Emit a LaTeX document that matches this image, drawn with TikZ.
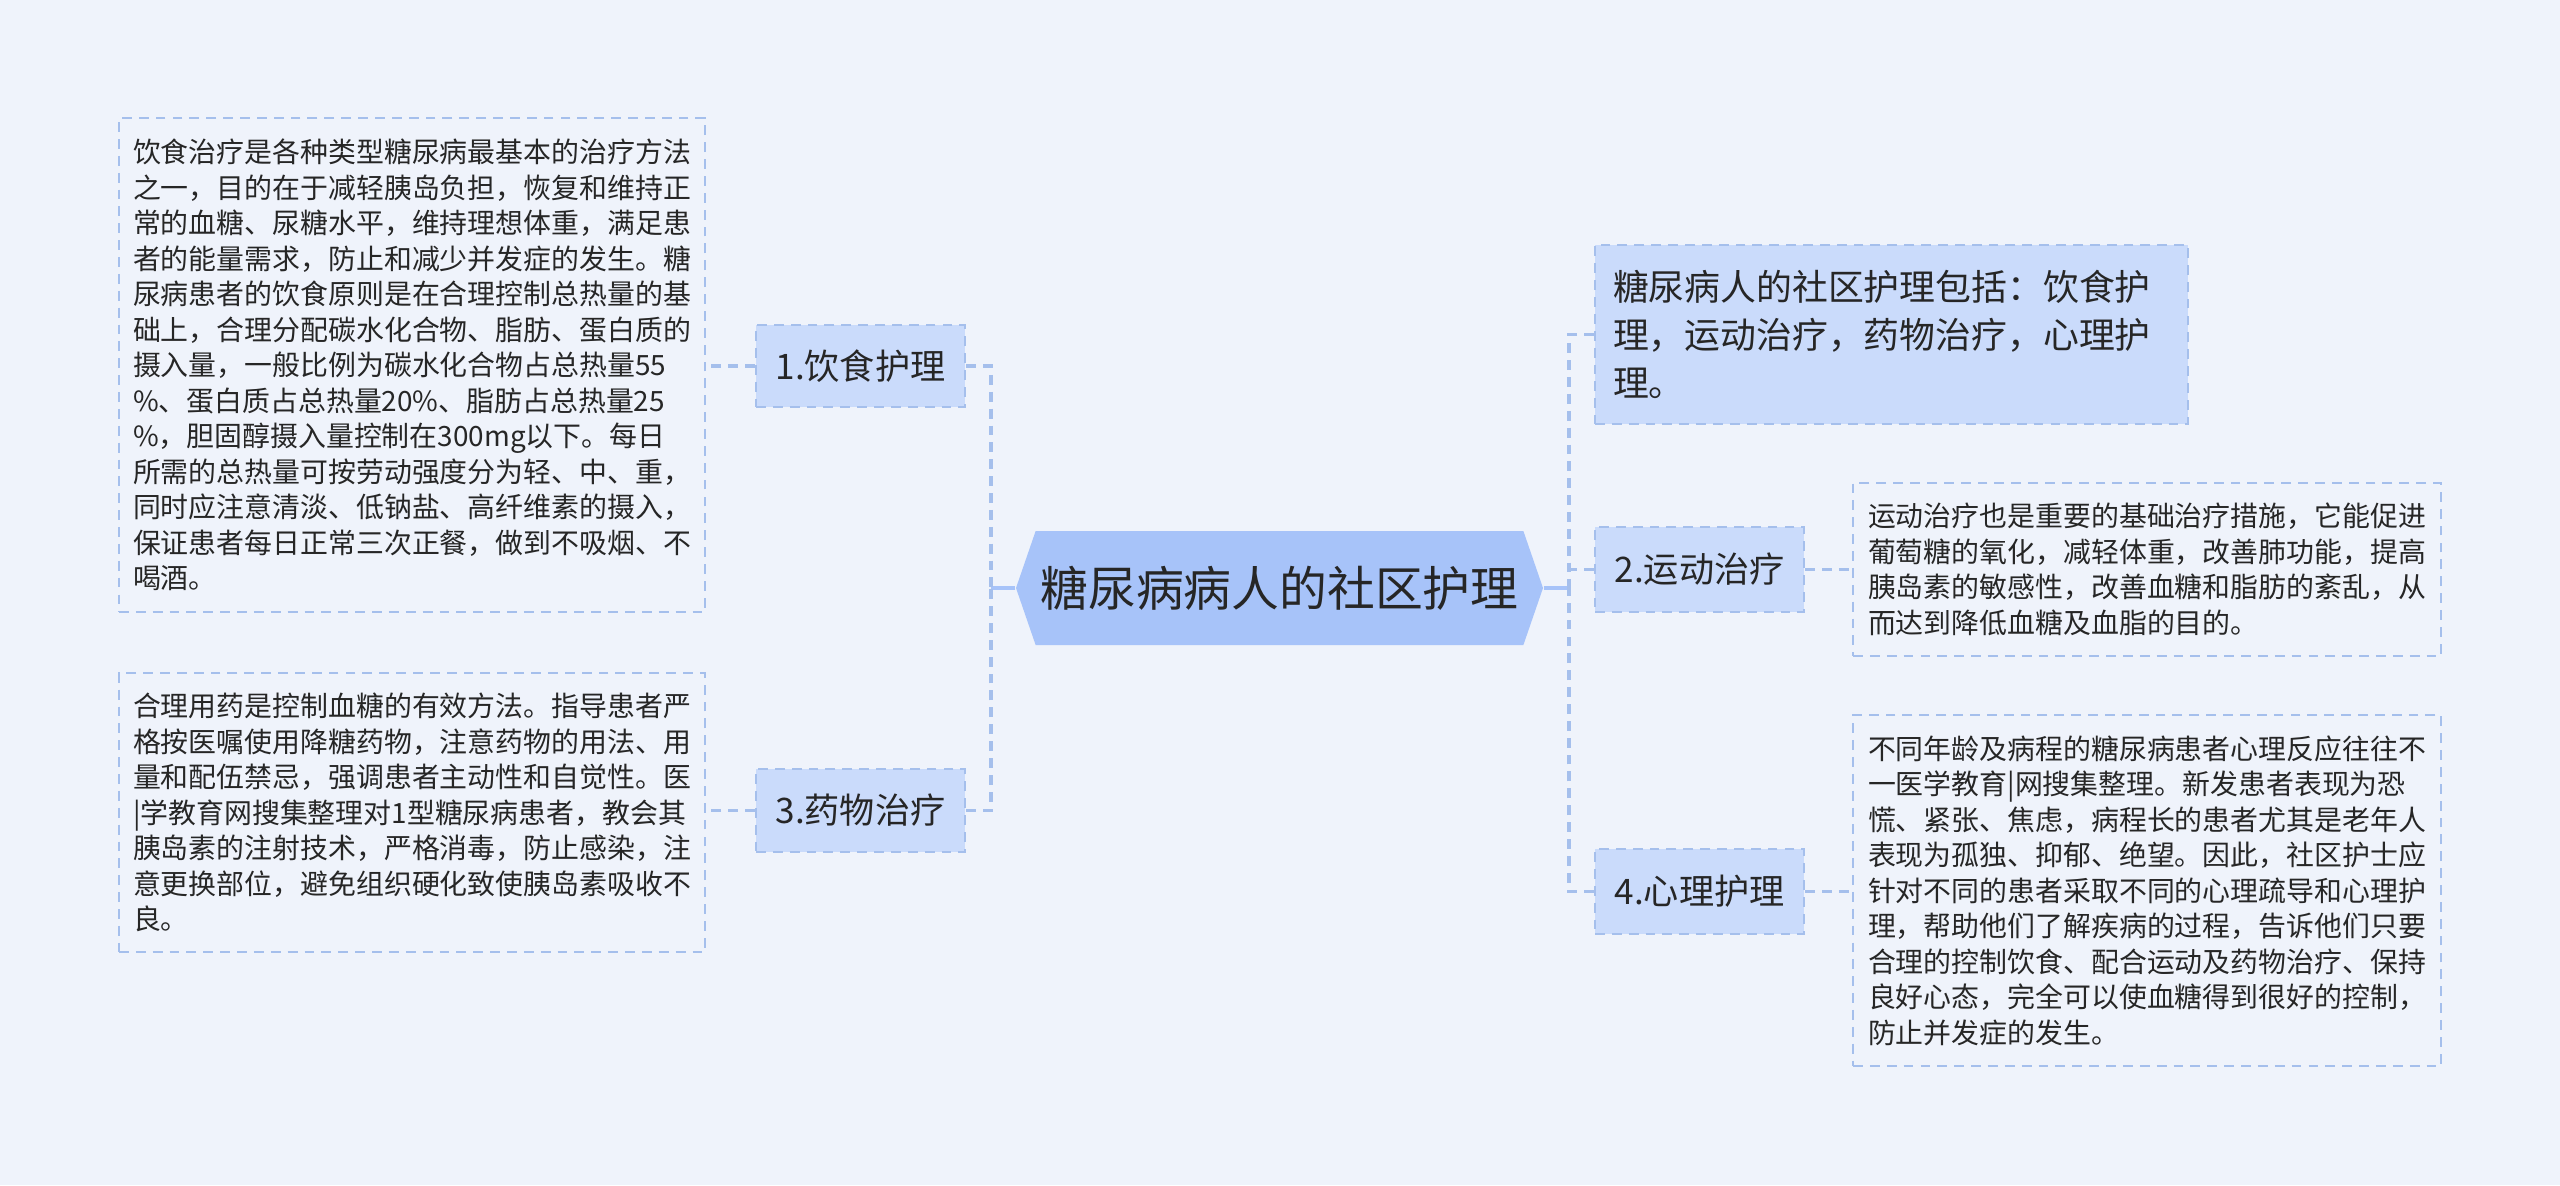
\documentclass[tikz,border=0pt]{standalone}
\usepackage{fontspec}
\setmainfont{Noto Sans CJK SC}
\usepackage{xcolor}
\usetikzlibrary{shapes.symbols}

\definecolor{bgblue}{HTML}{EFF3FB}
\definecolor{rootblue}{HTML}{A7C3F9}
\definecolor{subblue}{HTML}{CADBFB}
\definecolor{lineblue}{HTML}{A5BFEC}
\definecolor{inkgray}{HTML}{262626}

\begin{document}
\begin{tikzpicture}[y=-1cm,
  rootnode/.style={signal, signal to=west and east, signal pointer angle=142, fill=rootblue, text=inkgray,
    font=\fontsize{13.6pt}{16pt}\selectfont, minimum width=5.27cm, minimum height=1.14cm, inner sep=0pt},
  subnode/.style={fill=subblue, draw=lineblue, dash pattern=on 2.8pt off 2pt, line width=0.7pt, text=inkgray,
    font=\fontsize{10pt}{12pt}\selectfont, minimum width=2.09cm, inner sep=0pt},
  txtnode/.style={draw=lineblue, dash pattern=on 2.8pt off 2pt, line width=0.6pt, text=inkgray, align=left,
    inner xsep=0.14cm, inner ysep=0pt, text width=5.58cm, font=\fontsize{7.94pt}{10.1pt}\selectfont},
  rootlink/.style={rootblue, line width=1.2pt},
  sublink/.style={lineblue, dash pattern=on 2.8pt off 2pt, line width=1.1pt}]

\fill[bgblue] (0,0) rectangle (25.6,11.85);

\node[rootnode] (root) at (12.795,5.88) {糖尿病病人的社区护理};

\node[subnode, minimum height=0.82cm] (diet) at (8.605,3.66) {1.饮食护理};
\node[subnode, minimum height=0.83cm] (drug) at (8.605,8.105) {3.药物治疗};
\node[subnode, minimum height=0.85cm] (sport) at (16.995,5.695) {2.运动治疗};
\node[subnode, minimum height=0.85cm] (psych) at (16.995,8.915) {4.心理护理};

\node[txtnode, minimum height=4.94cm] (dietTxt) at (4.12,3.65) {饮食治疗是各种类型糖尿病最基本的治疗方法\\
之一，目的在于减轻胰岛负担，恢复和维持正\\
常的血糖、尿糖水平，维持理想体重，满足患\\
者的能量需求，防止和减少并发症的发生。糖\\
尿病患者的饮食原则是在合理控制总热量的基\\
础上，合理分配碳水化合物、脂肪、蛋白质的\\
摄入量，一般比例为碳水化合物占总热量55\\
\%、蛋白质占总热量20\%、脂肪占总热量25\\
\%，胆固醇摄入量控制在300mg以下。每日\\
所需的总热量可按劳动强度分为轻、中、重，\\
同时应注意清淡、低钠盐、高纤维素的摄入，\\
保证患者每日正常三次正餐，做到不吸烟、不\\
喝酒。};

\node[txtnode, minimum height=2.79cm] (drugTxt) at (4.12,8.125) {合理用药是控制血糖的有效方法。指导患者严\\
格按医嘱使用降糖药物，注意药物的用法、用\\
量和配伍禁忌，强调患者主动性和自觉性。医\\
|学教育网搜集整理对1型糖尿病患者，教会其\\
胰岛素的注射技术，严格消毒，防止感染，注\\
意更换部位，避免组织硬化致使胰岛素吸收不\\
良。};

\node[txtnode, fill=subblue, inner xsep=0.18cm, text width=5.57cm, minimum height=1.79cm,
  font=\fontsize{10.2pt}{13.7pt}\selectfont] (summary) at (18.915,3.345) {糖尿病人的社区护理包括：饮食护\\
理，运动治疗，药物治疗，心理护\\
理。};

\node[txtnode, inner xsep=0.15cm, minimum height=1.73cm] (sportTxt) at (21.47,5.695) {运动治疗也是重要的基础治疗措施，它能促进\\
葡萄糖的氧化，减轻体重，改善肺功能，提高\\
胰岛素的敏感性，改善血糖和脂肪的紊乱，从\\
而达到降低血糖及血脂的目的。};

\node[txtnode, inner xsep=0.15cm, minimum height=3.51cm] (psychTxt) at (21.47,8.905) {不同年龄及病程的糖尿病患者心理反应往往不\\
一医学教育|网搜集整理。新发患者表现为恐\\
慌、紧张、焦虑，病程长的患者尤其是老年人\\
表现为孤独、抑郁、绝望。因此，社区护士应\\
针对不同的患者采取不同的心理疏导和心理护\\
理，帮助他们了解疾病的过程，告诉他们只要\\
合理的控制饮食、配合运动及药物治疗、保持\\
良好心态，完全可以使血糖得到很好的控制，\\
防止并发症的发生。};

\coordinate (lhub) at (9.91,5.88);
\coordinate (rhub) at (15.69,5.88);

\draw[rootlink] (root.west) -- (lhub);
\draw[rootlink] (root.east) -- (rhub);
\foreach \n in {diet,drug} {\draw[sublink] (\n.east) -| (lhub);}
\foreach \n in {summary,psych} {\draw[sublink] (\n.west) -| (rhub);}
\draw[sublink] (sport.west) -- (sport.west -| rhub);

\foreach \i/\j in {diet/dietTxt,drug/drugTxt} {\draw[sublink] (\i.west) -- (\j.east |- \i.west);}
\foreach \i/\j in {sport/sportTxt,psych/psychTxt} {\draw[sublink] (\i.east) -- (\j.west |- \i.east);}

\end{tikzpicture}
\end{document}
